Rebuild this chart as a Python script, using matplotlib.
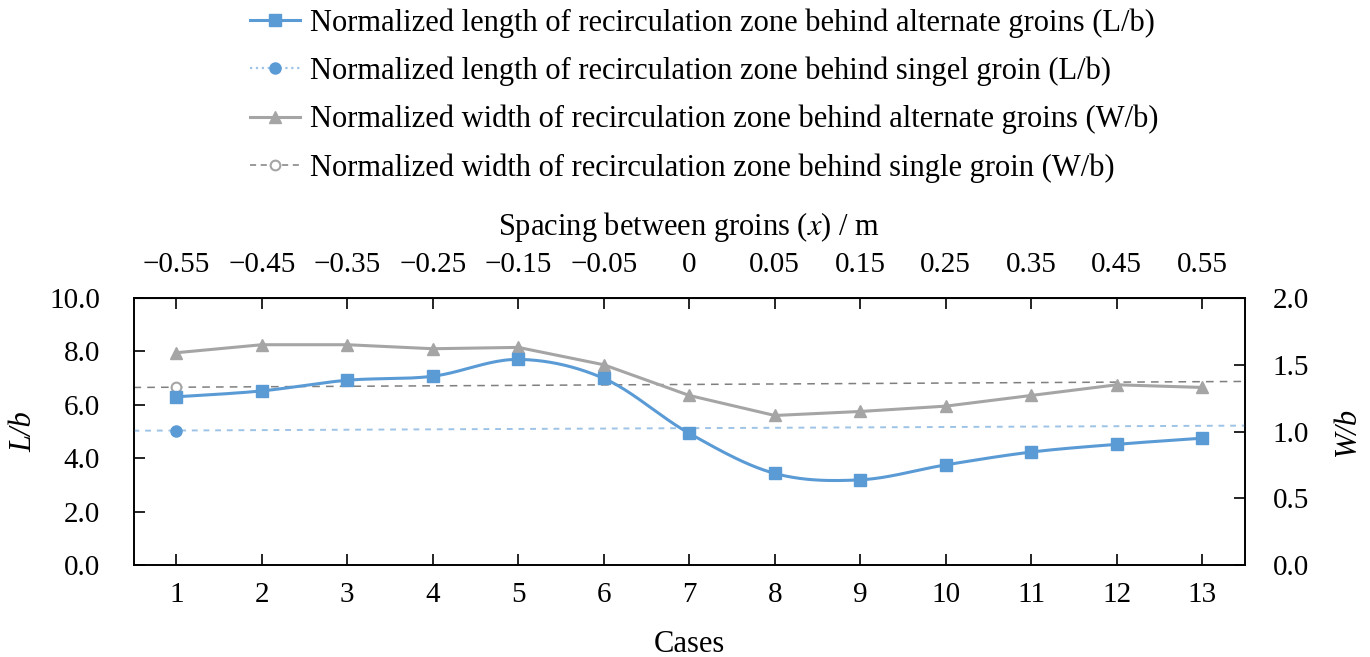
import numpy as np
import matplotlib
matplotlib.use("Agg")
import matplotlib.pyplot as plt
from matplotlib.lines import Line2D

plt.rcParams['font.family'] = ['Liberation Serif', 'DejaVu Serif']
plt.rcParams['font.size'] = 21
plt.rcParams['mathtext.fontset'] = 'stix'

# cases and the groin spacing that goes with each case
cases = list(range(1, 14))
spacing = ['\u22120.55', '\u22120.45', '\u22120.35', '\u22120.25', '\u22120.15', '\u22120.05',
           '0', '0.05', '0.15', '0.25', '0.35', '0.45', '0.55']

# alternate groins
L_alt = [6.30, 6.52, 6.92, 7.07, 7.70, 6.99, 4.93, 3.43, 3.19, 3.75, 4.23, 4.52, 4.75]
W_alt = [1.59, 1.65, 1.65, 1.62, 1.63, 1.50, 1.27, 1.12, 1.15, 1.19, 1.27, 1.35, 1.33]

# single groin (case 1) and its reference line across the plot
L_single = 5.02
W_single = 1.335
ref_x = [0.5, 13.5]
L_single_ref = [5.03, 5.22]
W_single_ref = [1.33, 1.375]

blue = '#5B9BD5'
lightblue = '#9DC3E6'
gray = '#A5A5A5'
darkgray = '#7F7F7F'


def smooth(x, y, n=25):
    # cubic bezier through the points (catmull-rom style control points)
    x = np.asarray(x, float)
    y = np.asarray(y, float)
    px = np.concatenate([[x[0]], x, [x[-1]]])
    py = np.concatenate([[y[0]], y, [y[-1]]])
    t = np.linspace(0, 1, n)
    xs, ys = [], []
    for i in range(len(x) - 1):
        p0 = np.array([px[i], py[i]])
        p1 = np.array([px[i + 1], py[i + 1]])
        p2 = np.array([px[i + 2], py[i + 2]])
        p3 = np.array([px[i + 3], py[i + 3]])
        c1 = p1 + (p2 - p0) / 6
        c2 = p2 - (p3 - p1) / 6
        b = ((1 - t) ** 3)[:, None] * p1 + (3 * (1 - t) ** 2 * t)[:, None] * c1 \
            + (3 * (1 - t) * t ** 2)[:, None] * c2 + (t ** 3)[:, None] * p2
        xs.append(b[:, 0])
        ys.append(b[:, 1])
    return np.concatenate(xs), np.concatenate(ys)


fig = plt.figure(figsize=(13.7, 6.57), dpi=100)
ax = fig.add_axes([133.5 / 1370, 1 - 565 / 657, 1111.5 / 1370, 267 / 657])
ax2 = ax.twinx()

# W/b on the right axis
ax2.plot(ref_x, W_single_ref, color=darkgray, lw=1.1, dashes=(5, 4))
ax2.plot(cases, W_alt, color=gray, lw=2.2, marker='^', ms=8)
ax2.plot([1], [W_single], ls='none', marker='o', ms=7, mfc='white', mec=gray, mew=1.5)
ax2.set_ylim(0, 2)
ax2.set_yticks(np.arange(0, 2.01, 0.5))
ax2.set_yticklabels(['%.1f' % v for v in np.arange(0, 2.01, 0.5)])
ax2.tick_params(axis='y', direction='in', length=8, width=1.2, pad=20)
ax2.set_ylabel('W/b', style='italic', rotation=90, fontsize=22)
ax2.yaxis.set_label_coords(1.079, 0.5)

# L/b on the left axis, drawn above the W/b lines
ax.set_zorder(ax2.get_zorder() + 1)
ax.patch.set_visible(False)
ax.plot(ref_x, L_single_ref, color=lightblue, lw=1.4, dashes=(3, 3))
sx, sy = smooth(cases, L_alt)
ax.plot(sx, sy, color=blue, lw=2.2)
ax.plot(cases, L_alt, ls='none', marker='s', ms=8, color=blue)
ax.plot([1], [L_single], ls='none', marker='o', ms=8, color=blue)

ax.set_xlim(0.5, 13.5)
ax.set_ylim(0, 10)
ax.set_xticks(cases)
ax.set_yticks(np.arange(0, 10.1, 2))
ax.set_yticklabels(['%.1f' % v for v in np.arange(0, 10.1, 2)])
ax.tick_params(axis='x', direction='in', length=8, width=1.2, pad=12)
ax.tick_params(axis='y', direction='in', length=8, width=1.2, pad=24)
ax.set_xlabel('Cases', fontsize=22)
ax.xaxis.set_label_coords(0.5, -0.245)
ax.set_ylabel('L/b', style='italic', fontsize=22)
ax.yaxis.set_label_coords(-0.086, 0.5)

for a in (ax, ax2):
    for s in a.spines.values():
        s.set_linewidth(1.2)

# spacing between groins on the top axis
top = ax.secondary_xaxis('top')
top.set_xticks(cases)
top.set_xticklabels(spacing)
top.tick_params(direction='in', length=8, width=1.2, pad=14.5)
top.set_xlabel('Spacing between groins ($x$) / m', labelpad=12, fontsize=22)

handles = [
    Line2D([], [], color=blue, lw=2.2, marker='s', ms=8),
    Line2D([], [], color=lightblue, lw=1.6, ls=':', marker='o', ms=8, mfc=blue, mec=blue),
    Line2D([], [], color=gray, lw=2.2, marker='^', ms=8),
    Line2D([], [], color=darkgray, lw=1.1, dashes=(4, 3), marker='o', ms=7, mfc='white', mec=gray, mew=1.5),
]
labels = [
    'Normalized length of recirculation zone behind alternate groins (L/b)',
    'Normalized length of recirculation zone behind singel groin (L/b)',
    'Normalized width of recirculation zone behind alternate groins (W/b)',
    'Normalized width of recirculation zone behind single groin (W/b)',
]
fig.legend(handles, labels, loc='upper left', bbox_to_anchor=(250 / 1370, 1 - 8 / 657),
           frameon=False, borderpad=0, borderaxespad=0, handlelength=1.64,
           handletextpad=0.33, labelspacing=0.62, fontsize=22)

fig.savefig('out.png', dpi=100)
